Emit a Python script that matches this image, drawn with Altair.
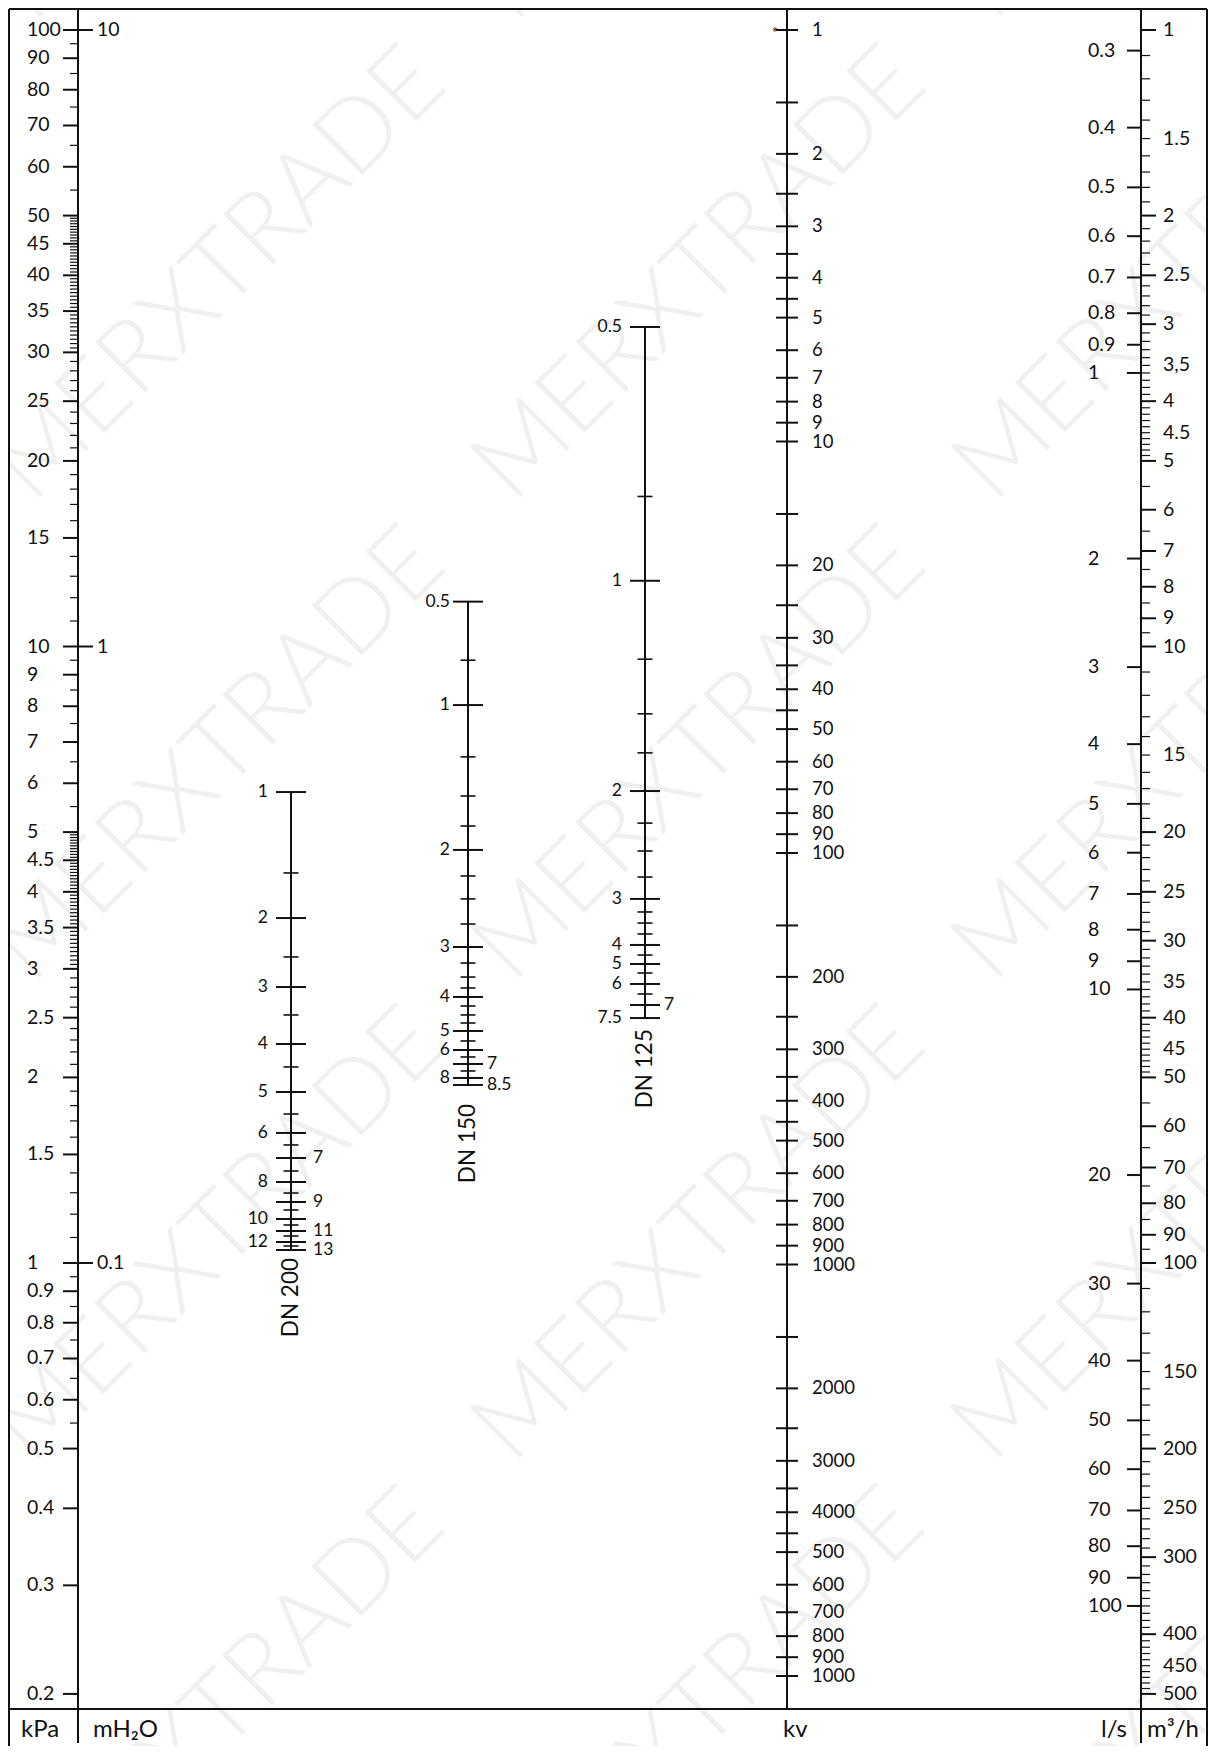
import altair as alt
import numpy as np
import pandas as pd

FONT = "Lato"
INK = "#111111"
NUM_SIZE = 19.5
DN_SIZE = 17.5

# ---------------- scale values ----------------
# kPa (left side of the left axis)
KPA_MAJOR = [100, 90, 80, 70, 60, 50, 45, 40, 35, 30, 25, 20, 15, 10, 9, 8, 7, 6, 5,
             4.5, 4, 3.5, 3, 2.5, 2, 1.5, 1, 0.9, 0.8, 0.7, 0.6, 0.5, 0.4, 0.3, 0.2]
KPA_TEXT = ["100", "90", "80", "70", "60", "50", "45", "40", "35", "30", "25", "20", "15",
            "10", "9", "8", "7", "6", "5", "4.5", "4", "3.5", "3", "2.5", "2", "1.5", "1",
            "0.9", "0.8", "0.7", "0.6", "0.5", "0.4", "0.3", "0.2"]
KPA_MINOR = ([95, 85, 75, 65, 55]
             + [k / 2 for k in range(61, 100) if k % 10]
             + [21, 22, 23, 24, 26, 27, 28, 29]
             + [11, 12, 13, 14, 16, 17, 18, 19]
             + [9.5, 8.5, 7.5, 6.5, 5.5]
             + [k / 20 for k in range(61, 100) if k % 10]
             + [2.1, 2.2, 2.3, 2.4, 2.6, 2.7, 2.8, 2.9]
             + [1.1, 1.2, 1.3, 1.4, 1.6, 1.7, 1.8, 1.9]
             + [0.95, 0.85, 0.75, 0.65, 0.55])

# mH2O (right side of the left axis)
MH2O_MAJOR = [10, 1, 0.1]
MH2O_TEXT = ["10", "1", "0.1"]

# kv axis
KV_MAJOR = [1, 2, 3, 4, 5, 6, 7, 8, 9, 10, 20, 30, 40, 50, 60, 70, 80, 90, 100,
            200, 300, 400, 500, 600, 700, 800, 900, 1000, 2000, 3000, 4000,
            5000, 6000, 7000, 8000, 9000, 10000]
KV_TEXT = ["1", "2", "3", "4", "5", "6", "7", "8", "9", "10", "20", "30", "40", "50",
           "60", "70", "80", "90", "100", "200", "300", "400", "500", "600", "700",
           "800", "900", "1000", "2000", "3000", "4000", "500", "600", "700", "800",
           "900", "1000"]
KV_MINOR = [1.5, 2.5, 3.5, 4.5, 15, 25, 35, 45, 150, 250, 350, 450, 1500, 2500, 3500, 4500]

# flow: l/s (left of right axis)
LS_MAJOR = [0.3, 0.4, 0.5, 0.6, 0.7, 0.8, 0.9, 1, 2, 3, 4, 5, 6, 7, 8, 9, 10,
            20, 30, 40, 50, 60, 70, 80, 90, 100]
LS_TEXT = ["0.3", "0.4", "0.5", "0.6", "0.7", "0.8", "0.9", "1", "2", "3", "4", "5", "6",
           "7", "8", "9", "10", "20", "30", "40", "50", "60", "70", "80", "90", "100"]

# flow: m3/h (right of right axis)
M3H_LABELED = [1, 1.5, 2, 2.5, 3, 3.5, 4, 4.5, 5, 6, 7, 8, 9, 10, 15, 20, 25, 30, 35, 40,
               45, 50, 60, 70, 80, 90, 100, 150, 200, 250, 300, 400, 450, 500]
M3H_TEXT = ["1", "1.5", "2", "2.5", "3", "3,5", "4", "4.5", "5", "6", "7", "8", "9", "10",
            "15", "20", "25", "30", "35", "40", "45", "50", "60", "70", "80", "90", "100",
            "150", "200", "250", "300", "400", "450", "500"]
M3H_SHORT_LABELED = [1.5, 3.5, 4.5, 15, 35, 45, 150, 250, 450]
M3H_MINOR = ([k / 10 for k in range(11, 50) if k % 5]
             + [5.5, 6.5, 7.5, 8.5, 9.5]
             + [k for k in range(11, 50) if k % 5]
             + [55, 65, 75, 85, 95]
             + [k for k in range(110, 500, 10) if k not in (150, 200, 250, 300, 400, 450)])

# valve presetting scales: setting -> kv value (read against the kv axis)
DN200_SET = [1, 1.5, 2, 2.5, 3, 3.5, 4, 4.5, 5, 5.5, 6, 6.5, 7, 7.5, 8, 8.5, 9, 9.5,
             10, 10.5, 11, 11.5, 12, 12.5, 13]
DN200_KV = [71.1, 111.8, 143.9, 178.9, 211.7, 247.5, 291.2, 331.1, 380.9, 430.8, 479.0,
            512.3, 551.0, 592.6, 630.2, 670.4, 704.9, 737.1, 775.2, 801.7, 829.1, 852.5,
            881.7, 901.6, 922.1]
DN200_LEFT = [1, 2, 3, 4, 5, 6, 8, 10, 12]
DN200_RIGHT = [7, 9, 11, 13]

DN150_SET = [0.5, 0.75, 1, 1.25, 1.5, 1.75, 2, 2.25, 2.5, 2.75, 3, 3.25, 3.5, 3.75, 4,
             4.25, 4.5, 4.75, 5, 5.5, 6, 6.5, 7, 7.5, 8, 8.5]
DN150_KV = [24.5, 34.0, 43.7, 58.4, 72.7, 86.0, 98.3, 113.7, 129.3, 148.8, 169.2, 185.1,
            200.2, 212.8, 223.8, 235.4, 247.5, 258.9, 270.7, 286.3, 301.1, 313.1, 325.6,
            338.6, 352.1, 366.2]
DN150_LEFT = [0.5, 1, 2, 3, 4, 5, 6, 8]
DN150_RIGHT = [7, 8.5]

DN125_SET = [0.5, 0.75, 1, 1.25, 1.5, 1.75, 2, 2.25, 2.5, 2.75, 3, 3.25, 3.5, 3.75, 4,
             4.5, 5, 5.5, 6, 6.5, 7, 7.5]
DN125_KV = [5.27, 13.6, 21.8, 33.8, 45.9, 57.1, 70.7, 84.6, 98.9, 114.4, 129.3, 139.1,
            148.0, 157.3, 167.3, 177.0, 186.1, 195.7, 208.1, 220.1, 234.1, 251.8]
DN125_LEFT = [0.5, 1, 2, 3, 4, 5, 6, 7.5]
DN125_RIGHT = [7]

WATERMARK = "MERXTRADE"


# ---------------- common vertical position (decades below the top reference line) -----
def u_kpa(v):
    return 2 - np.log10(v)


def u_mh2o(v):
    return 1 - np.log10(v)


KV_RATIO = 411.5 / 616.5


def u_kv(v):
    return KV_RATIO * np.log10(v)


def u_m3h(v):
    return np.log10(v)


def u_ls(v):
    return np.log10(3.6 * np.asarray(v, float))


H = 1728
W = 1190
PX_PER_U = 616.5
TOP_OFF = 12
Y = alt.Scale(domain=[-TOP_OFF / PX_PER_U, (H - TOP_OFF) / PX_PER_U],
              reverse=True, nice=False, zero=False)
ONE = pd.DataFrame({"k": [0]})


def ticks(vals, fn, x1, x2, sw=2.0):
    df = pd.DataFrame({"u": fn(np.asarray(vals, float))})
    return alt.Chart(df).mark_rule(color=INK, strokeWidth=sw).encode(
        y=alt.Y("u:Q", scale=Y, axis=None), x=alt.value(x1), x2=alt.value(x2))


def labels(vals, texts, fn, x, align, size=NUM_SIZE, dy=0):
    df = pd.DataFrame({"u": fn(np.asarray(vals, float)), "t": texts})
    return alt.Chart(df).mark_text(font=FONT, fontSize=size, color=INK, align=align,
                                   baseline="middle", dy=dy).encode(
        y=alt.Y("u:Q", scale=Y, axis=None), x=alt.value(x), text="t:N")


def seg(x1, y1, x2, y2, sw=2.0):
    return alt.Chart(ONE).mark_rule(color=INK, strokeWidth=sw).encode(
        x=alt.value(x1), x2=alt.value(x2), y=alt.value(y1), y2=alt.value(y2))


def fixed_text(t, x, y, align, size=24):
    return alt.Chart(ONE).mark_text(font=FONT, fontSize=size, color=INK, align=align,
                                    baseline="middle").encode(
        x=alt.value(x), y=alt.value(y), text=alt.value(t))


def dn_scale(sets, kvs, left, right, name, x, lx_left, lx_right, name_dx):
    long_set = set(left) | set(right)
    kv_long = [k for s, k in zip(sets, kvs) if s in long_set]
    kv_short = [k for s, k in zip(sets, kvs) if s not in long_set]
    kv_of = dict(zip(sets, kvs))
    axis_df = pd.DataFrame({"u0": [u_kv(kvs[0])], "u1": [u_kv(kvs[-1])]})
    out = [
        alt.Chart(axis_df).mark_rule(color=INK, strokeWidth=2).encode(
            x=alt.value(x), y=alt.Y("u0:Q", scale=Y, axis=None), y2="u1:Q"),
        ticks(kv_long, u_kv, x - 15, x + 15),
        ticks(kv_short, u_kv, x - 7.5, x + 7.5, sw=1.6),
        labels([kv_of[s] for s in left], [f"{s:g}" for s in left], u_kv, lx_left, "right",
               size=DN_SIZE),
        labels([kv_of[s] for s in right], [f"{s:g}" for s in right], u_kv, lx_right, "left",
               size=DN_SIZE),
    ]
    name_df = pd.DataFrame({"u": [u_kv(kvs[-1])], "t": [name]})
    out.append(alt.Chart(name_df).mark_text(font=FONT, fontSize=22.5, color=INK, angle=270,
                                            align="right", baseline="middle",
                                            dx=name_dx).encode(
        y=alt.Y("u:Q", scale=Y, axis=None), x=alt.value(x), text="t:N"))
    return out


# ---------------- faint diagonal watermark (regular tiling) ----------------
wm_x, wm_u = [], []
for k in range(-2, 8):
    c = 495 + 480 * k
    for i in range(-4, 5):
        t = -39 + 680 * i + 340 * (k % 2)
        xp = c / 2 + t / np.sqrt(2) - 18
        yp = c / 2 - t / np.sqrt(2) - 18
        if -300 < xp < W + 300 and -300 < yp < H + 300:
            wm_x.append(xp)
            wm_u.append((yp - TOP_OFF) / PX_PER_U)
wm_df = pd.DataFrame({"x": wm_x, "u": wm_u, "t": WATERMARK})
watermark = alt.Chart(wm_df).mark_text(
    font=FONT, fontSize=100, fontWeight=300, color="#f0f0f0", angle=315,
    align="center", baseline="middle").encode(
    x=alt.X("x:Q", scale=alt.Scale(domain=[0, W], nice=False, zero=False), axis=None),
    y=alt.Y("u:Q", scale=Y, axis=None), text="t:N")

# ---------------- layout (plot-area pixel positions) ----------------
X_P = 60       # pressure axis
X_KV = 769     # kv axis
X_Q = 1123     # flow axis
FRAME_L, FRAME_R, FRAME_T = -9, 1189, -9
SEP_Y = 1691
BOTTOM_Y = 1730
UNIT_Y = 1712

layers = [
    watermark,
    # frame and separators
    seg(FRAME_L, FRAME_T, FRAME_R, FRAME_T),
    seg(FRAME_L, FRAME_T, FRAME_L, BOTTOM_Y),
    seg(FRAME_R, FRAME_T, FRAME_R, BOTTOM_Y),
    seg(FRAME_L, SEP_Y, FRAME_R, SEP_Y),
    # main axis lines
    seg(X_P, FRAME_T, X_P, 1725),
    seg(X_KV, FRAME_T, X_KV, SEP_Y),
    seg(X_Q, FRAME_T, X_Q, 1725),
    # pressure scales
    ticks(KPA_MAJOR, u_kpa, X_P - 15, X_P),
    ticks(KPA_MINOR, u_kpa, X_P - 8, X_P, sw=1.2),
    labels(KPA_MAJOR, KPA_TEXT, u_kpa, 9, "left"),
    ticks(MH2O_MAJOR, u_mh2o, X_P, X_P + 15),
    labels(MH2O_MAJOR, MH2O_TEXT, u_mh2o, 79, "left"),
    # kv scale
    ticks(KV_MAJOR + KV_MINOR, u_kv, X_KV - 11, X_KV + 11),
    labels(KV_MAJOR, KV_TEXT, u_kv, 794, "left", size=18.5),
    labels([1], ["*"], u_kv, X_KV - 9, "right", size=15, dy=3),
    # flow scales
    ticks(LS_MAJOR, u_ls, X_Q - 14, X_Q),
    labels(LS_MAJOR, LS_TEXT, u_ls, 1070, "left"),
    ticks([v for v in M3H_LABELED if v not in M3H_SHORT_LABELED], u_m3h, X_Q, X_Q + 15),
    ticks(M3H_SHORT_LABELED + M3H_MINOR, u_m3h, X_Q, X_Q + 9, sw=1.2),
    labels(M3H_LABELED, M3H_TEXT, u_m3h, 1145, "left"),
    # unit captions
    fixed_text("kPa", 3, UNIT_Y, "left"),
    fixed_text("mH₂O", 75, UNIT_Y, "left"),
    fixed_text("kv", 765, UNIT_Y, "left"),
    fixed_text("l/s", 1109, UNIT_Y, "right"),
    fixed_text("m³/h", 1129, UNIT_Y, "left"),
]

layers += dn_scale(DN200_SET, DN200_KV, DN200_LEFT, DN200_RIGHT, "DN 200", 273, 250, 295, -8)
layers += dn_scale(DN150_SET, DN150_KV, DN150_LEFT, DN150_RIGHT, "DN 150", 450, 432, 469, -19)
layers += dn_scale(DN125_SET, DN125_KV, DN125_LEFT, DN125_RIGHT, "DN 125", 627, 604, 646, -11)

chart = alt.layer(*layers).properties(
    width=W, height=H,
    padding={"left": 10, "top": 10, "right": 0, "bottom": 0},
    autosize=alt.AutoSizeParams(type="none"),
    background="white",
).configure_view(stroke=None)

chart.save("out.html", embed_options={"renderer": "svg", "actions": False})
